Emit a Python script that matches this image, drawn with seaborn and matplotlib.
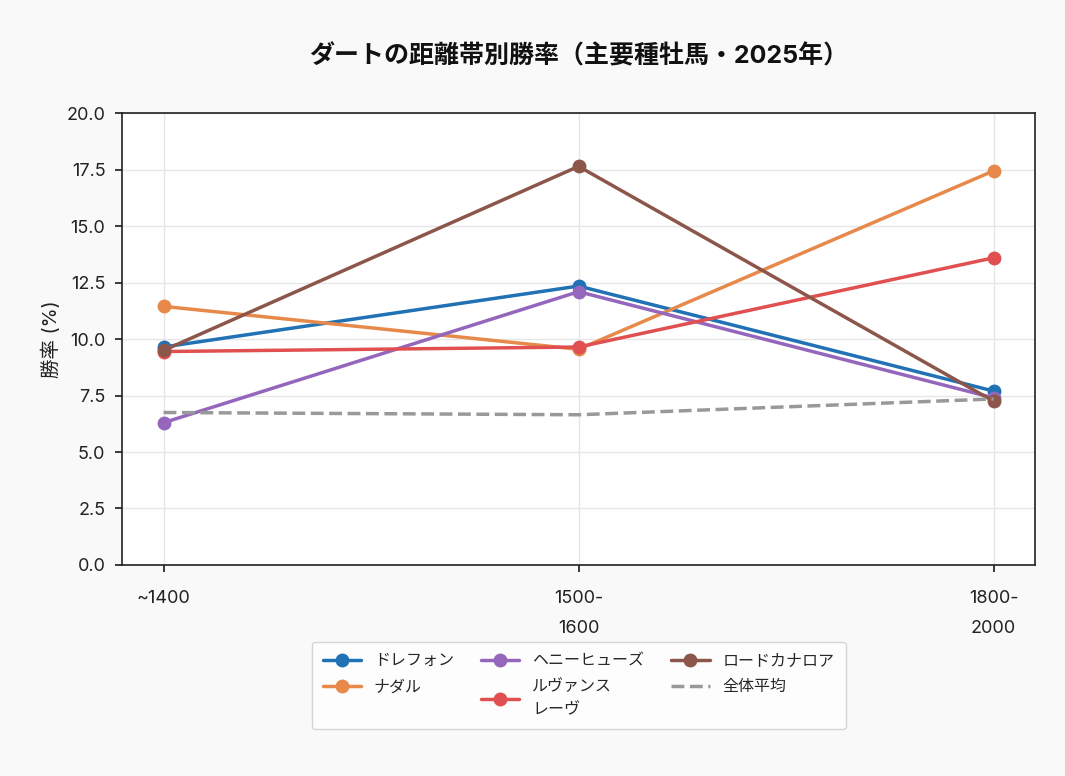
import matplotlib
matplotlib.use("Agg")
import matplotlib.pyplot as plt
import seaborn as sns
import pandas as pd

distances = ["~1400", "1500-\n1600", "1800-\n2000"]
sires = ["ドレフォン", "ナダル", "ヘニーヒューズ", "ルヴァンス\nレーヴ", "ロードカナロア"]
drefong = [9.65, 12.35, 7.7]
nadal = [11.45, 9.55, 17.45]
henny = [6.3, 12.1, 7.4]
ruvance = [9.45, 9.65, 13.6]
lord = [9.5, 17.65, 7.25]
overall = [6.75, 6.65, 7.35]

colors = ["#2171b5", "#e6894a", "#9467bd", "#e05050", "#8c564b"]

sns.set_theme(style="whitegrid")
plt.rcParams["font.family"] = ["Inter", "Noto Sans CJK JP", "DejaVu Sans"]

fig = plt.figure(figsize=(10.65, 7.76), dpi=100, facecolor="#f9f9f9")
ax = fig.add_axes([0.1146, 0.272, 0.8573, 0.582])
ax.set_facecolor("white")

series = [drefong, nadal, henny, ruvance, lord]
for name, vals, c in zip(sires, series, colors):
    df = pd.DataFrame({"x": range(len(distances)), "y": vals})
    sns.lineplot(data=df, x="x", y="y", ax=ax, color=c, linewidth=2.5,
                 marker="o", markersize=10, markeredgewidth=0, label=name)

df = pd.DataFrame({"x": range(len(distances)), "y": overall})
sns.lineplot(data=df, x="x", y="y", ax=ax, color="#999999", linewidth=2.5,
             linestyle="--", label="全体平均")

ax.set_xlim(-0.1, 2.1)
ax.set_ylim(0, 20)
ax.set_yticks([0, 2.5, 5, 7.5, 10, 12.5, 15, 17.5, 20])
ax.set_yticklabels([f"{v:.1f}" for v in ax.get_yticks()])
ax.set_xticks(range(len(distances)))
ax.set_xticklabels(distances, linespacing=2.0)
ax.tick_params(axis="both", labelsize=13, length=5, color="#222222",
               labelcolor="#222222", left=True, bottom=True, pad=7)
ax.tick_params(axis="x", pad=13)
ax.set_xlabel("")
ax.set_ylabel("勝率 (%)", fontsize=14, color="#222222")
ax.grid(True, color="#e6e6e6", linewidth=1)
for s in ax.spines.values():
    s.set_color("#222222")
    s.set_linewidth(1.2)

ax.set_title("ダートの距離帯別勝率（主要種牡馬・2025年）", fontsize=18,
             fontweight="bold", pad=36, color="#111111")

leg = ax.legend(loc="upper center", bbox_to_anchor=(0.5, -0.153), ncol=3,
                fontsize=11.5, frameon=True, facecolor="white", edgecolor="#cccccc",
                handlelength=2.4, columnspacing=1.7, borderpad=0.7,
                labelspacing=0.7)
for t in leg.get_texts():
    t.set_linespacing(1.7)

fig.savefig("out.png", dpi=100, facecolor=fig.get_facecolor())
